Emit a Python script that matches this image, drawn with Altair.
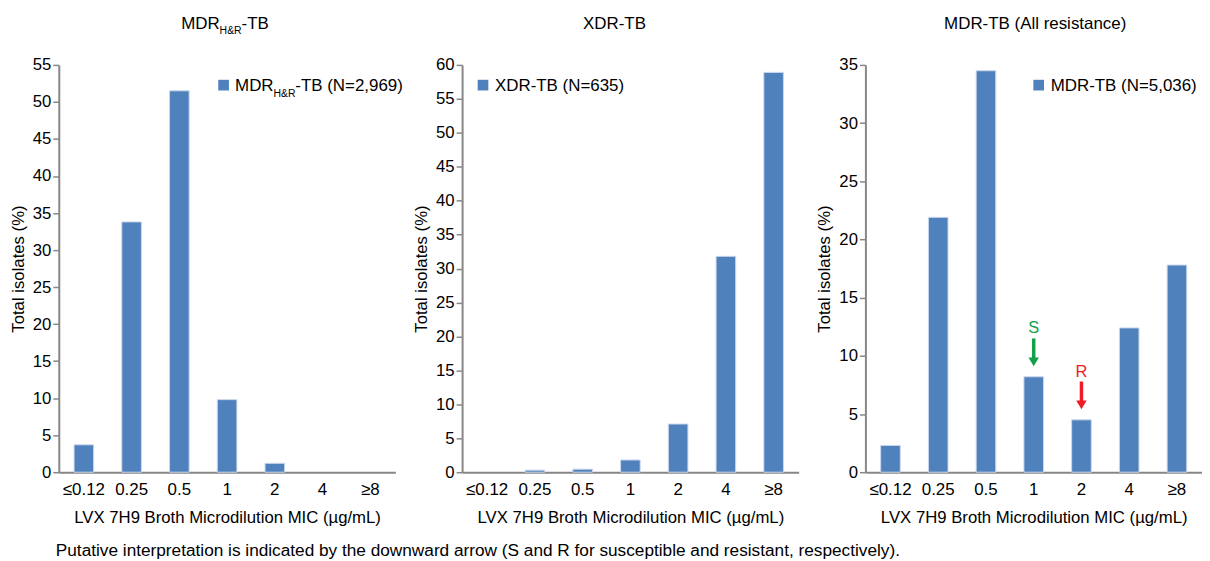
import altair as alt
import pandas as pd

# ---------------- data ----------------
mic_levels = ["≤0.12", "0.25", "0.5", "1", "2", "4", "≥8"]
mdr_hr_pct = [3.7, 33.8, 51.5, 9.8, 1.2, 0.0, 0.0]
xdr_pct = [0.0, 0.3, 0.45, 1.8, 7.1, 31.8, 58.9]
mdr_all_pct = [2.3, 21.9, 34.5, 8.2, 4.5, 12.4, 17.8]

y_max = [55, 60, 35]
x_title = "LVX 7H9 Broth Microdilution MIC (µg/mL)"
y_title = "Total isolates (%)"
footnote = ("Putative interpretation is indicated by the downward arrow "
            "(S and R for susceptible and resistant, respectively).")

interp_labels = ["S", "R"]
interp_mic = ["1", "2"]
interp_colors = ["#13A04A", "#EE1C25"]

# ---------------- styling ----------------
FONT = "Liberation Sans"
BAR = "#4F81BD"
GRAY = "#878787"
W, H = 338, 409
FS = 16.8


def one_text(text, x, y, size=FS, align="left", color="#000000"):
    return alt.Chart(pd.DataFrame({"t": [text]})).mark_text(
        align=align, baseline="alphabetic", fontSize=size, font=FONT, color=color
    ).encode(x=alt.value(x), y=alt.value(y), text="t:N")


def legend_square(x):
    return alt.Chart(pd.DataFrame({"t": [""]})).mark_square(
        size=115, color=BAR, opacity=1, filled=True
    ).encode(x=alt.value(x), y=alt.value(20.3))


def bars(values, ymax):
    df = pd.DataFrame({"mic": mic_levels, "value": values})
    return alt.Chart(df).transform_filter("datum.value > 0").mark_bar(
        color=BAR, stroke="#C9D7EB", strokeWidth=1
    ).encode(
        x=alt.X("mic:N", sort=mic_levels,
                scale=alt.Scale(domain=mic_levels, paddingInner=0.59, paddingOuter=0.32),
                axis=alt.Axis(title=x_title, labelAngle=0, ticks=False, labelPadding=9,
                              titlePadding=12, labelFontSize=17)),
        y=alt.Y("value:Q",
                scale=alt.Scale(domain=[0, ymax], nice=False, zero=True),
                axis=alt.Axis(title=y_title, values=list(range(0, ymax + 1, 5)),
                              grid=False, tickSize=6, tickWidth=1.5, tickColor=GRAY,
                              labelPadding=2, titlePadding=5, labelFontSize=16.8)),
    )


# ---------------- panel 1 ----------------
p1 = alt.layer(
    bars(mdr_hr_pct, y_max[0]),
    legend_square(165.5),
    one_text("MDR", 177, 26.3, 17),
    one_text("H&R", 215.6, 32, 10.5),
    one_text("-TB (N=2,969)", 237.5, 26.3, 17),
    one_text("MDR", 123, -36.3, 17),
    one_text("H&R", 161.5, -31.3, 10.5),
    one_text("-TB", 183.5, -36.3, 17),
    one_text(footnote, -3, 493, 17.3),
).properties(width=W, height=H)

# ---------------- panel 2 ----------------
p2 = alt.layer(
    bars(xdr_pct, y_max[1]),
    legend_square(21),
    one_text("XDR-TB (N=635)", 33, 26.3, 17),
    one_text("XDR-TB", 153, -36.3, 17, align="center"),
).properties(width=W, height=H)

# ---------------- panel 3 ----------------
arrow_df = pd.DataFrame({
    "mic": interp_mic,
    "label": interp_labels,
    "col": interp_colors,
    "value": [mdr_all_pct[mic_levels.index(m)] for m in interp_mic],
})
arrow_base = alt.Chart(arrow_df).encode(
    x=alt.X("mic:N", sort=mic_levels),
    y=alt.Y("value:Q"),
    color=alt.Color("col:N", scale=None),
)
arrow_text = arrow_base.mark_text(dy=-43.5, baseline="alphabetic", fontSize=16.5,
                                  font=FONT).encode(text="label:N")
arrow_shaft = arrow_base.mark_rule(strokeWidth=3.5, yOffset=-38.5, y2Offset=-18).encode(
    y2=alt.Y2("value"))
arrow_head = arrow_base.mark_point(shape="M-1,-0.85L1,-0.85L0,0.85Z", filled=True,
                                   size=110, yOffset=-15, opacity=1)

p3 = alt.layer(
    bars(mdr_all_pct, y_max[2]),
    arrow_shaft, arrow_head, arrow_text,
    legend_square(174),
    one_text("MDR-TB (N=5,036)", 186, 26.3, 17),
    one_text("MDR-TB (All resistance)", 170.5, -36.3, 17, align="center"),
).properties(width=W, height=H)

chart = alt.hconcat(p1, p2, p3, spacing=67, bounds="flush").properties(
    padding={"left": 2, "top": 5, "right": 0, "bottom": 0}
).configure(font=FONT).configure_view(stroke=None).configure_axis(
    labelFont=FONT, titleFont=FONT, labelFontSize=FS, titleFontSize=FS,
    titleFontWeight="normal", labelColor="#000000", titleColor="#000000",
    domainColor=GRAY, domainWidth=2,
)

chart.save("out.html", embed_options={"renderer": "svg", "actions": False})
